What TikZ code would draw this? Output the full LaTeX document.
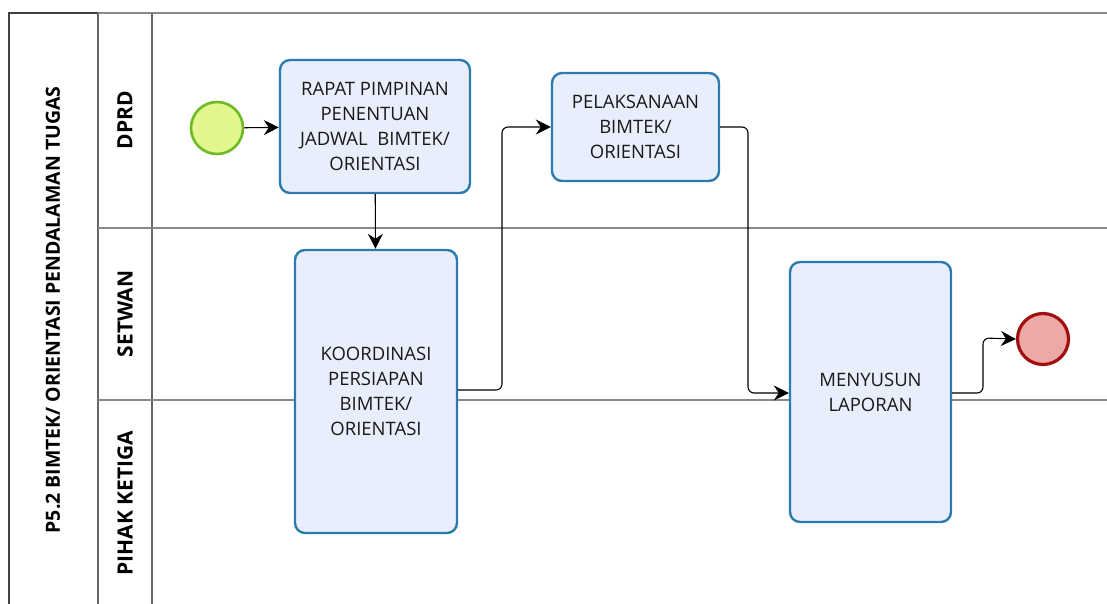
\documentclass[tikz,border=0pt]{standalone}
\usepackage{fontspec}
\setmainfont{Open Sans}
\usetikzlibrary{arrows.meta}
\definecolor{taskfill}{HTML}{E8EEFC}
\definecolor{taskline}{HTML}{2C7BAE}
\definecolor{startfill}{HTML}{E2F68F}
\definecolor{startline}{HTML}{6CBB22}
\definecolor{endfill}{HTML}{EDA8A8}
\definecolor{endline}{HTML}{A30F0F}
\definecolor{laneline}{HTML}{888888}
\begin{document}
\begin{tikzpicture}[x=1pt,y=-1pt,
  task/.style={draw=taskline,line width=2.4pt,fill=taskfill,rounded corners=10pt,
    align=center,font=\fontsize{18.5}{25}\selectfont,text=black!90,inner sep=0pt},
  startev/.style={circle,draw=startline,fill=startfill,line width=2.6pt,
    minimum size=52pt,inner sep=0pt},
  endev/.style={circle,draw=endline,fill=endfill,line width=3.2pt,
    minimum size=51pt,inner sep=0pt},
  flow/.style={draw=black,line width=1.1pt,-{Stealth[length=15pt,width=15pt,inset=5pt]}},
  lanetitle/.style={rotate=90,font=\bfseries\fontsize{21}{24}\selectfont},
  pooltitle/.style={rotate=90,font=\bfseries\fontsize{19.5}{22}\selectfont},
  sep/.style={draw=laneline,line width=2pt}]
\useasboundingbox (0,0) rectangle (1107,604);
% pool frame and lanes
\draw[draw=black!75,line width=1.3pt] (1107,13) -- (9,13) -- (9,620);
\draw[draw=black!60,line width=1.3pt] (98,13) -- (98,620);
\draw[draw=black!60,line width=1.3pt] (152,13) -- (152,620);
\draw[sep] (98,13) -- (1107,13);
\draw[sep] (98,228) -- (1107,228);
\draw[sep] (98,400) -- (1107,400);
\node[pooltitle] (pool) at (53,310) {P5.2 BIMTEK/ ORIENTASI PENDALAMAN TUGAS};
\node[lanetitle] (l1) at (125,120) {DPRD};
\node[lanetitle] (l2) at (125,314) {SETWAN};
\node[lanetitle] (l3) at (125,503) {PIHAK KETIGA};
% events and tasks
\node[startev] (start) at (217,128) {};
\node[task,minimum width=190pt,minimum height=133pt] (t1) at (375,126.5)
  {RAPAT PIMPINAN\\PENENTUAN\\JADWAL\ \ BIMTEK/\\ORIENTASI};
\node[task,minimum width=167pt,minimum height=108pt] (t2) at (635.5,127)
  {PELAKSANAAN\\BIMTEK/\\ORIENTASI};
\node[task,minimum width=162pt,minimum height=283pt] (t3) at (376,391.5)
  {KOORDINASI\\PERSIAPAN\\BIMTEK/\\ORIENTASI};
\node[task,minimum width=161pt,minimum height=260pt] (t4) at (870.5,392)
  {MENYUSUN\\LAPORAN};
\node[endev] (end) at (1043,339) {};
% sequence flows
\draw[flow] (start) -- (t1);
\draw[flow] (t1) -- (t3);
\draw[flow,rounded corners=6pt] (t3.east |- 0,390) -- (502,390) -- (502,127) -- (t2.west |- 0,127);
\draw[flow,rounded corners=6pt] (t2.east |- 0,127) -- (748,127) -- (748,393) -- (t4.west |- 0,393);
\draw[flow,rounded corners=6pt] (t4.east |- 0,393) -- (983,393) -- (983,338) -- (end.west);
\end{tikzpicture}
\end{document}
